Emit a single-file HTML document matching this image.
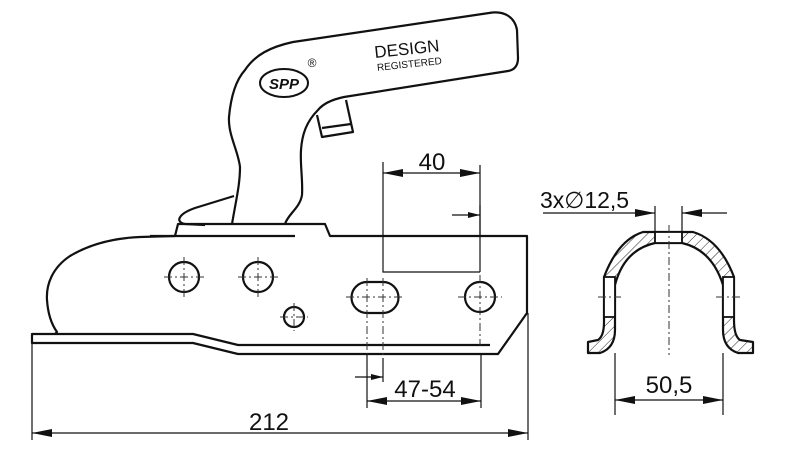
<!DOCTYPE html>
<html><head><meta charset="utf-8"><style>html,body{margin:0;padding:0;background:#fff}svg{display:block}</style></head>
<body>
<svg width="800" height="469" viewBox="0 0 800 469" xmlns="http://www.w3.org/2000/svg" font-family="Liberation Sans, sans-serif">
<defs>
<pattern id="h" width="7" height="7" patternUnits="userSpaceOnUse" patternTransform="rotate(45)">
<line x1="0" y1="0" x2="0" y2="7" stroke="#222" stroke-width="1"/></pattern>
<marker id="a" viewBox="0 0 20 8" refX="20" refY="4" markerWidth="20" markerHeight="8" markerUnits="userSpaceOnUse" orient="auto-start-reverse"><path d="M0,0 L20,4 L0,8 Z" fill="#111"/></marker>
<marker id="s" viewBox="0 0 12 6" refX="12" refY="3" markerWidth="12" markerHeight="6" markerUnits="userSpaceOnUse" orient="auto"><path d="M0,0 L12,3 L0,6 Z" fill="#111"/></marker>
</defs>
<g fill="none" stroke="#111" stroke-width="2.2" stroke-linejoin="round">
<!-- handle -->
<path d="M232,224 C236,200 240,185 240,167 C238,150 228,135 229,117 C231,95 236,80 245,70 C255,55 270,47 293,42 L489,13 C505,10 515,18 517,30 L518,58 C518,66 514,70 508,71 L344,97 C330,100 322,105 318,110 C306,122 302,135 301,150 C300,165 303,180 302,195 C300,208 288,214 285,224"/>
<path d="M317,115 L322,137 L353,132 L346,100"/>
<path d="M322,128 L351,124"/>
<!-- flap -->
<path d="M234,196 L195,208 C178,214 175,222 185,224 L205,225"/>
<!-- body -->
<path d="M150,236 L295,236"/>
<path d="M175,236 L178,224 L325,224 L330,236 L527,236 L527,313 L498,354 L238,354 L193,343 L32,343 L32,334 L193,334 L238,345 L490,345"/>
<path d="M175,236 L140,237 C115,238 90,244 70,256 C52,268 46,285 47,300 C48,315 52,325 57,332 L55,334"/>
<!-- holes -->
<circle cx="184" cy="277" r="15"/>
<circle cx="258" cy="277" r="15"/>
<circle cx="294" cy="317" r="10"/>
<path d="M367,282 L383,282 A15.5,15.5 0 0 1 383,313 L367,313 A15.5,15.5 0 0 1 367,282 Z"/>
<circle cx="480" cy="297" r="15"/>
<!-- logo -->
<ellipse cx="284" cy="83" rx="24" ry="14" stroke-width="2"/>
<!-- profile -->
<path d="M588,353 L588,342 L598,340 Q604,336 604,322 L604,277 Q618,240 643,232 L693,232 Q720,240 734,277 L734,320 Q734,336 740,340 L753,342 L753,353 L738,353 Q723,348 723,330 L723,285 Q712,250 682,243 L655,243 Q624,250 615,285 L615,330 Q615,348 600,353 Z" fill="url(#h)"/>
</g>
<!-- holes in profile (white out hatching) -->
<g fill="#fff" stroke="#111" stroke-width="1.8">
<rect x="655" y="232" width="27" height="11"/>
<rect x="604" y="277" width="11" height="40"/>
<rect x="723" y="277" width="11" height="40"/>
</g>
<!-- centre lines -->
<g stroke="#333" stroke-width="1" stroke-dasharray="8,3,2,3" fill="none">
<path d="M164,277 H204 M184,257 V297"/>
<path d="M238,277 H278 M258,257 V297"/>
<path d="M280,317 H308 M294,303 V331"/>
<path d="M346,297 H404 M367,278 V408 M383,278 V358"/>
<path d="M458,297 H502 M480,275 V345"/>
<path d="M669,225 V355 M598,297 H621 M716,297 H740"/>
</g>
<!-- dimensions -->
<g stroke="#111" stroke-width="1.2" fill="none">
<path d="M383,162 V272 H480 M480,165 V272"/>
<path d="M480,205 V237"/>
<path d="M383,173 H480" marker-start="url(#a)" marker-end="url(#a)"/>
<path d="M452,215 H480" marker-end="url(#s)"/>
<path d="M383,358 V382"/>
<path d="M355,377 H383" marker-end="url(#s)"/>
<path d="M367,354 V408 M481,354 V408"/>
<path d="M367,401 H481" marker-start="url(#a)" marker-end="url(#a)"/>
<path d="M32,343 V440 M528,313 V440"/>
<path d="M32,433 H528" marker-start="url(#a)" marker-end="url(#a)"/>
<path d="M655,206 V242 M682,206 V242"/>
<path d="M543,213 H655" marker-end="url(#a)"/>
<path d="M727,213 H682" marker-end="url(#a)"/>
<path d="M615,353 V415 M723,353 V415"/>
<path d="M615,400 H723" marker-start="url(#a)" marker-end="url(#a)"/>
</g>
<g fill="#111">
<text x="432" y="170" font-size="24" text-anchor="middle">40</text>
<text x="425" y="397" font-size="24" text-anchor="middle">47-54</text>
<text x="269" y="430" font-size="24" text-anchor="middle">212</text>
<text x="669" y="393" font-size="24" text-anchor="middle">50,5</text>
<text x="540" y="208" font-size="23">3x∅12,5</text>
<text x="284" y="89" font-size="15" font-style="italic" font-weight="bold" text-anchor="middle">SPP</text>
<text x="312" y="67" font-size="12" text-anchor="middle">®</text>
<g transform="rotate(-6 375 58)">
<text x="375" y="58" font-size="17">DESIGN</text>
<text x="376" y="71" font-size="10">REGISTERED</text>
</g>
</g>
</svg>
</body></html>
